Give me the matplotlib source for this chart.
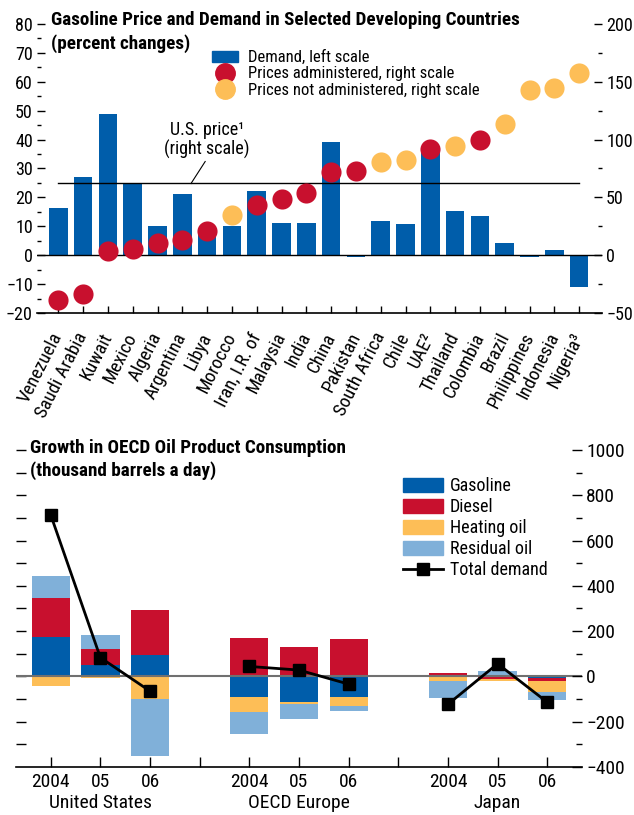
import numpy as np
import matplotlib
matplotlib.use("Agg")
import matplotlib.pyplot as plt
from matplotlib.patches import Patch
from matplotlib.lines import Line2D

plt.rcParams["font.family"] = ["Roboto Condensed", "DejaVu Sans"]

BLUE = "#005DAA"
RED = "#C8102E"
ORANGE = "#FDBE57"
LIGHTBLUE = "#80B0D9"

# ---- top panel data ----
countries = ["Venezuela", "Saudi Arabia", "Kuwait", "Mexico", "Algeria", "Argentina",
             "Libya", "Morocco", "Iran, I.R. of", "Malaysia", "India", "China",
             "Pakistan", "South Africa", "Chile", "UAE\u00b2", "Thailand", "Colombia",
             "Brazil", "Philippines", "Indonesia", "Nigeria\u00b3"]
demand = [16.2, 27.2, 49.0, 24.7, 10.0, 21.0, 8.0, 10.0, 22.1, 11.0, 11.0, 39.0,
          -0.5, 11.7, 10.7, 36.0, 15.2, 13.4, 4.1, -0.5, 1.7, -10.9]
price = [-38.5, -33.3, 4.0, 5.7, 10.3, 13.2, 21.0, 34.8, 43.1, 48.9, 54.0, 72.1,
         73.0, 80.2, 81.9, 92.2, 94.3, 99.7, 113.8, 142.8, 144.8, 157.2]
administered = [True, True, True, True, True, True, True, False, True, True, True, True,
                True, False, False, True, False, True, False, False, False, False]
us_price = 62

# ---- bottom panel data ----
periods = ["2004", "05", "06", "2004", "05", "06", "2004", "05", "06"]
regions = ["United States", "OECD Europe", "Japan"]
gasoline = [173, 52, 95, -89, -111, -89, 7, 7, -6]
diesel = [174, 68, 198, 169, 129, 164, 7, -10, -13]
heating = [-44, -9, -98, -67, -13, -40, -21, -9, -49]
residual = [97, 62, -252, -97, -66, -22, -74, 16, -36]
total = [713, 83, -65, 44, 28, -34, -123, 56, -114]

fig = plt.figure(figsize=(6.34, 8.15), dpi=100)

# ================= top panel =================
ax = fig.add_axes([0.0584, 0.616, 0.8911, 0.3546])
ax2 = ax.twinx()
x = np.arange(len(countries))
ax.bar(x, demand, width=0.75, color=BLUE, zorder=2)
ax.axhline(0, color="black", lw=1, zorder=3)
ax.set_xlim(-0.86, 21.92)
ax.set_ylim(-20, 80)
ax2.set_ylim(-50, 200)

ax2.plot([0, len(countries) - 1], [us_price, us_price], color="black", lw=1, zorder=1)
adm = np.array(administered)
price = np.array(price)
ax2.scatter(x[adm], price[adm], s=210, color=RED, zorder=4, linewidths=0)
ax2.scatter(x[~adm], price[~adm], s=210, color=ORANGE, zorder=4, linewidths=0)
ax2.text(6.0, 99.6, "U.S. price\u00b9\n(right scale)", ha="center", va="center",
         fontsize=13, linespacing=1.05)
ax2.plot([5.92, 5.35], [81, us_price], color="black", lw=0.8)

for a in (ax, ax2):
    for s in ("top", "left", "right"):
        a.spines[s].set_visible(False)
ax.spines["bottom"].set_linewidth(1.2)
ax2.spines["bottom"].set_visible(False)

ax.set_yticks(np.arange(-20, 81, 10))
ax.set_yticks(np.arange(-15, 80, 10), minor=True)
ax2.set_yticks(np.arange(-50, 201, 50))
ax2.set_yticks(np.arange(-25, 200, 50), minor=True)
ax.tick_params(axis="y", direction="in", length=6, width=1, labelsize=13, pad=3)
ax.tick_params(axis="y", which="minor", direction="in", length=3, width=1)
ax2.tick_params(axis="y", direction="in", length=6, width=1, labelsize=13, pad=3)
ax2.tick_params(axis="y", which="minor", direction="in", length=3, width=1)
ax.set_xticks(x)
ax.set_xticklabels(countries, rotation=63, ha="right", va="center",
                   rotation_mode="anchor", fontsize=13.5)
ax.tick_params(axis="x", direction="in", length=5, width=1, pad=15)

handles = [Patch(color=BLUE),
           Line2D([], [], marker="o", ls="", color=RED, markersize=14),
           Line2D([], [], marker="o", ls="", color=ORANGE, markersize=14)]
labels = ["Demand, left scale", "Prices administered, right scale",
          "Prices not administered, right scale"]
ax2.legend(handles, labels, loc="upper left", bbox_to_anchor=(0.309, 0.91),
           frameon=False, fontsize=12, labelspacing=0.08, handlelength=1.6,
           handleheight=0.6, handletextpad=0.6, borderpad=0, borderaxespad=0)

fig.text(0.0804, 0.975, "Gasoline Price and Demand in Selected Developing Countries",
         fontsize=13.8, fontweight="bold", va="center")
fig.text(0.0804, 0.947, "(percent changes)", fontsize=13.8, fontweight="bold", va="center")

# ================= bottom panel =================
bx = fig.add_axes([0.0252, 0.0589, 0.8928, 0.389])
xb = np.array([0, 1, 2, 4, 5, 6, 8, 9, 10])
pos_base = np.zeros(len(xb))
neg_base = np.zeros(len(xb))
for vals, col in ((gasoline, BLUE), (diesel, RED), (heating, ORANGE), (residual, LIGHTBLUE)):
    vals = np.array(vals, dtype=float)
    bottoms = np.where(vals >= 0, pos_base, neg_base)
    bx.bar(xb, vals, width=0.77, bottom=bottoms, color=col, zorder=2)
    pos_base += np.where(vals >= 0, vals, 0)
    neg_base += np.where(vals < 0, vals, 0)
bx.axhline(0, color="#707070", lw=1.5, zorder=3)
for i in range(3):
    bx.plot(xb[3 * i:3 * i + 3], total[3 * i:3 * i + 3], color="black", lw=2,
            marker="s", markersize=8, zorder=5)

bx.set_xlim(-0.7, 10.7)
bx.set_ylim(-400, 1000)
for s in ("top", "left", "right"):
    bx.spines[s].set_visible(False)
bx.spines["bottom"].set_linewidth(1.2)
bx.set_xticks([0, 1, 2, 3, 4, 5, 6, 7, 8, 9, 10])
bx.set_xticklabels(["2004", "05", "06", "", "2004", "05", "06", "", "2004", "05", "06"],
                   fontsize=14)
bx.tick_params(axis="x", direction="in", length=7, width=1, pad=4)
bx.set_yticks(np.arange(-300, 1001, 100))
bx.tick_params(axis="y", direction="in", length=7, width=1, labelleft=False)
for i, r in enumerate(regions):
    bx.text(1 + 4 * i, -0.114, r, transform=bx.get_xaxis_transform(),
            ha="center", va="center", fontsize=14)

bx2 = bx.twinx()
bx2.set_ylim(-400, 1000)
for s in ("top", "left", "right", "bottom"):
    bx2.spines[s].set_visible(False)
bx2.set_yticks(np.arange(-400, 1001, 200))
bx2.set_yticks(np.arange(-300, 1000, 200), minor=True)
bx2.tick_params(axis="y", direction="in", length=7, width=1, labelsize=14, pad=3)
bx2.tick_params(axis="y", which="minor", direction="in", length=4, width=1)

handles = [Patch(color=BLUE), Patch(color=RED), Patch(color=ORANGE), Patch(color=LIGHTBLUE),
           Line2D([], [], color="black", lw=2, marker="s", markersize=9)]
labels = ["Gasoline", "Diesel", "Heating oil", "Residual oil", "Total demand"]
bx2.legend(handles, labels, loc="upper left", bbox_to_anchor=(0.684, 0.915),
           frameon=False, fontsize=13, labelspacing=0.17, handlelength=2.2,
           handleheight=0.8, handletextpad=0.4, borderpad=0, borderaxespad=0)

fig.text(0.047, 0.450, "Growth in OECD Oil Product Consumption", fontsize=13.8,
         fontweight="bold", va="center")
fig.text(0.047, 0.423, "(thousand barrels a day)", fontsize=13.8, fontweight="bold",
         va="center")

fig.savefig("out.png", dpi=100)
